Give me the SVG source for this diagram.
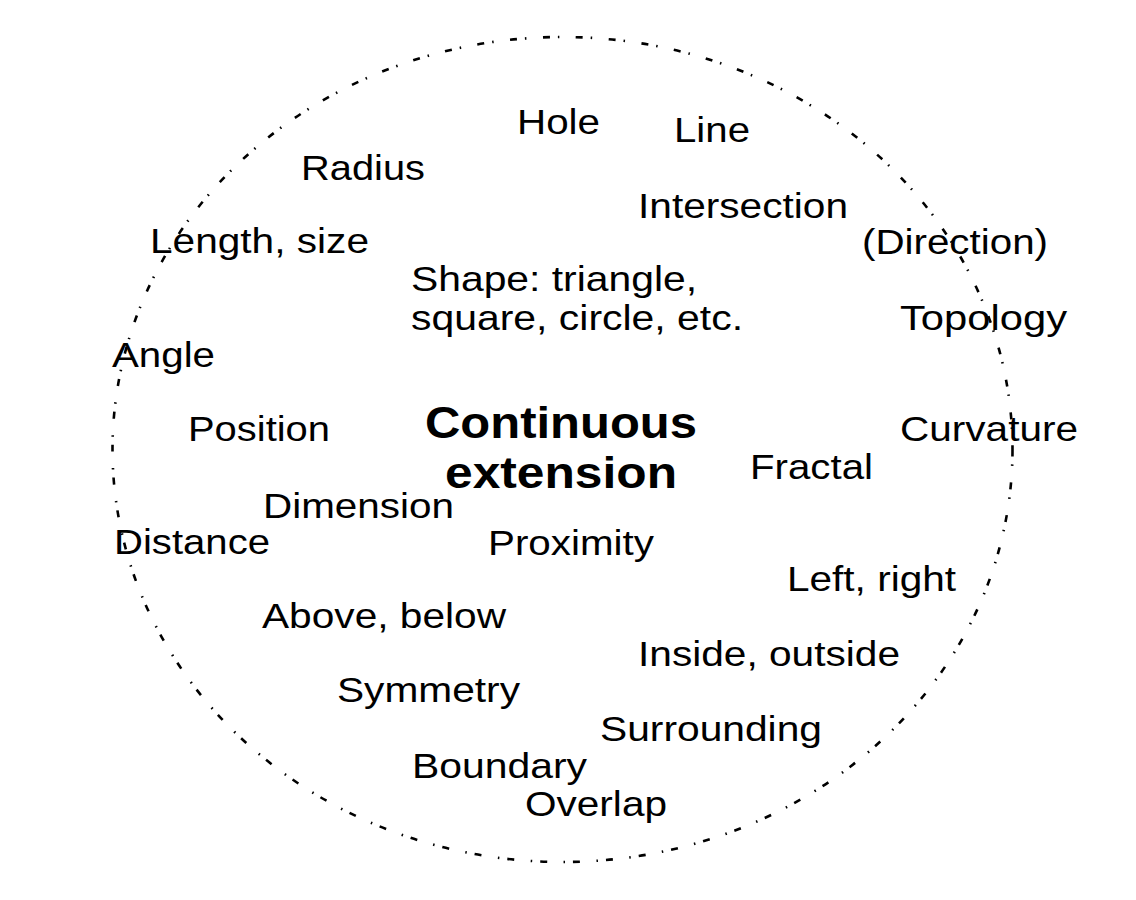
<svg xmlns="http://www.w3.org/2000/svg" width="1136" height="900" viewBox="0 0 1136 900">
<style>
.t{font-family:"Liberation Sans",Arial,sans-serif;font-size:35px;fill:#000}
.b{font-family:"Liberation Sans",Arial,sans-serif;font-size:45px;font-weight:bold;fill:#000}
.c{fill:none;stroke:#000;stroke-width:2.6;stroke-dasharray:7 8 1.5 16.5}
</style>
<rect width="1136" height="900" fill="#fff"/>
<g id="boundary">
<ellipse class="c" cx="562.5" cy="449.5" rx="450" ry="412.5"/>
</g>
<g id="center">
<text class="b" x="425" y="438" textLength="272" lengthAdjust="spacingAndGlyphs">Continuous</text>
<text class="b" x="445" y="488" textLength="232" lengthAdjust="spacingAndGlyphs">extension</text>
</g>
<g id="terms">
<text id="hole" class="t" x="517" y="134" textLength="83" lengthAdjust="spacingAndGlyphs">Hole</text>
<text id="line" class="t" x="674" y="142" textLength="76" lengthAdjust="spacingAndGlyphs">Line</text>
<text id="radius" class="t" x="301" y="180" textLength="124" lengthAdjust="spacingAndGlyphs">Radius</text>
<text id="intersection" class="t" x="638" y="218" textLength="210" lengthAdjust="spacingAndGlyphs">Intersection</text>
<text id="length" class="t" x="150" y="253" textLength="219" lengthAdjust="spacingAndGlyphs">Length, size</text>
<text id="direction" class="t" x="862" y="254" textLength="186" lengthAdjust="spacingAndGlyphs">(Direction)</text>
<text id="shape1" class="t" x="411" y="291" textLength="286" lengthAdjust="spacingAndGlyphs">Shape: triangle,</text>
<text id="shape2" class="t" x="411" y="330" textLength="332" lengthAdjust="spacingAndGlyphs">square, circle, etc.</text>
<text id="topology" class="t" x="900" y="330" textLength="167" lengthAdjust="spacingAndGlyphs">Topology</text>
<text id="angle" class="t" x="112" y="367" textLength="103" lengthAdjust="spacingAndGlyphs">Angle</text>
<text id="position" class="t" x="188" y="441" textLength="142" lengthAdjust="spacingAndGlyphs">Position</text>
<text id="curvature" class="t" x="900" y="441" textLength="178" lengthAdjust="spacingAndGlyphs">Curvature</text>
<text id="fractal" class="t" x="750" y="479" textLength="123" lengthAdjust="spacingAndGlyphs">Fractal</text>
<text id="dimension" class="t" x="263" y="518" textLength="191" lengthAdjust="spacingAndGlyphs">Dimension</text>
<text id="distance" class="t" x="114" y="554" textLength="156" lengthAdjust="spacingAndGlyphs">Distance</text>
<text id="proximity" class="t" x="488" y="555" textLength="166" lengthAdjust="spacingAndGlyphs">Proximity</text>
<text id="leftright" class="t" x="787" y="591" textLength="169" lengthAdjust="spacingAndGlyphs">Left, right</text>
<text id="abovebelow" class="t" x="262" y="628" textLength="244" lengthAdjust="spacingAndGlyphs">Above, below</text>
<text id="insideoutside" class="t" x="638" y="666" textLength="262" lengthAdjust="spacingAndGlyphs">Inside, outside</text>
<text id="symmetry" class="t" x="337" y="702" textLength="183" lengthAdjust="spacingAndGlyphs">Symmetry</text>
<text id="surrounding" class="t" x="600" y="741" textLength="222" lengthAdjust="spacingAndGlyphs">Surrounding</text>
<text id="boundaryterm" class="t" x="412" y="778" textLength="175" lengthAdjust="spacingAndGlyphs">Boundary</text>
<text id="overlap" class="t" x="525" y="816" textLength="142" lengthAdjust="spacingAndGlyphs">Overlap</text>
</g>
</svg>
